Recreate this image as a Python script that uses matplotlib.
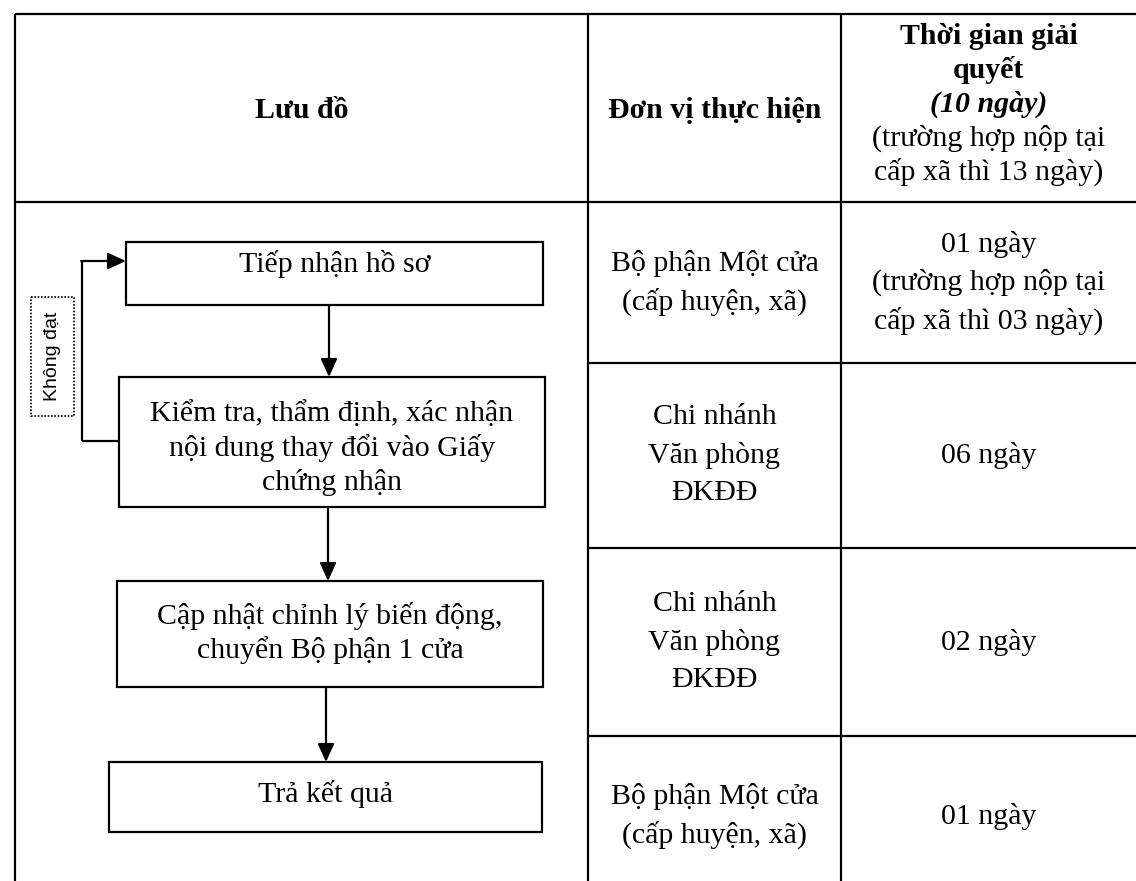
import matplotlib.pyplot as plt
from matplotlib.patches import Rectangle

# ---- noi dung bang (du lieu) ----
HEADERS = ['Lưu đồ', 'Đơn vị thực hiện']
TIME_HEADER = ['Thời gian giải', 'quyết', '(10 ngày)',
               '(trường hợp nộp tại', 'cấp xã thì 13 ngày)']
STEPS = [
    ['Tiếp nhận hồ sơ'],
    ['Kiểm tra, thẩm định, xác nhận', 'nội dung thay đổi vào Giấy', 'chứng nhận'],
    ['Cập nhật chỉnh lý biến động,', 'chuyển Bộ phận 1 cửa'],
    ['Trả kết quả'],
]
UNITS = [
    ['Bộ phận Một cửa', '(cấp huyện, xã)'],
    ['Chi nhánh', 'Văn phòng', 'ĐKĐĐ'],
    ['Chi nhánh', 'Văn phòng', 'ĐKĐĐ'],
    ['Bộ phận Một cửa', '(cấp huyện, xã)'],
]
DURATIONS = [
    ['01 ngày', '(trường hợp nộp tại', 'cấp xã thì 03 ngày)'],
    ['06 ngày'],
    ['02 ngày'],
    ['01 ngày'],
]
LOOP_LABEL = 'Không đạt'

# ---- bo cuc (pixel) ----
W, H = 1136, 881
X_LEFT, X_COL1, X_COL2, X_RIGHT = 15, 588, 841, 1136
Y_TOP, Y_HEAD = 14, 202
ROW_BOTTOMS = [363, 548, 736, 896]
BOXES = [(126, 242, 543, 305), (119, 377, 545, 507),
         (117, 581, 543, 687), (109, 762, 542, 832)]
STEP_FIRST_Y = [264, 414, 616, 794]
ARROW_X = [329, 328, 326]

SERIF = 'Liberation Serif'
FS = 21.5
LW = 1.6

fig = plt.figure(figsize=(W / 100, H / 100), dpi=100)
ax = fig.add_axes([0, 0, 1, 1])
ax.set_xlim(0, W)
ax.set_ylim(H, 0)
ax.axis('off')


def line(x0, y0, x1, y1, lw=LW):
    ax.plot([x0, x1], [y0, y1], color='black', lw=lw, solid_capstyle='butt')


def lines_text(x, yc, rows, spacing, **kw):
    """Ve nhieu dong chu, can giua quanh yc"""
    n = len(rows)
    for i, s in enumerate(rows):
        y = yc + (i - (n - 1) / 2) * spacing
        ax.text(x, y, s, ha='center', va='center', family=SERIF,
                fontsize=FS, color='black', **kw)


# khung bang
line(X_LEFT, Y_TOP, X_RIGHT, Y_TOP)
line(X_LEFT, Y_TOP, X_LEFT, H)
line(X_COL1, Y_TOP, X_COL1, H)
line(X_COL2, Y_TOP, X_COL2, H)
line(X_LEFT, Y_HEAD, X_RIGHT, Y_HEAD)
for yb in ROW_BOTTOMS[:-1]:
    line(X_COL1, yb, X_RIGHT, yb)

# tieu de
ax.text((X_LEFT + X_COL1) / 2, (Y_TOP + Y_HEAD) / 2 + 2, HEADERS[0], ha='center',
        va='center', family=SERIF, fontsize=FS, fontweight='bold')
ax.text((X_COL1 + X_COL2) / 2, (Y_TOP + Y_HEAD) / 2 + 2, HEADERS[1], ha='center',
        va='center', family=SERIF, fontsize=FS, fontweight='bold')
xc3 = (X_COL2 + X_RIGHT) / 2
styles = [dict(fontweight='bold'), dict(fontweight='bold'),
          dict(fontweight='bold', fontstyle='italic'), {}, {}]
for i, (s, st) in enumerate(zip(TIME_HEADER, styles)):
    ax.text(xc3, 36 + i * 34, s, ha='center', va='center', family=SERIF,
            fontsize=FS, **st)

# cot don vi va thoi gian
tops = [Y_HEAD] + ROW_BOTTOMS[:-1]
for top, bot, u, d in zip(tops, ROW_BOTTOMS, UNITS, DURATIONS):
    yc = (top + bot) / 2
    lines_text((X_COL1 + X_COL2) / 2, yc, u, 38)
    lines_text(xc3, yc, d, 38)

# luu do
for (x0, y0, x1, y1), rows, fy in zip(BOXES, STEPS, STEP_FIRST_Y):
    ax.add_patch(Rectangle((x0, y0), x1 - x0, y1 - y0, fill=False,
                           edgecolor='black', lw=LW))
    for i, s in enumerate(rows):
        ax.text((x0 + x1) / 2, fy + i * 34, s, ha='center', va='center',
                family=SERIF, fontsize=FS)

arrow_kw = dict(arrowstyle='-|>,head_length=1.1,head_width=0.5',
                color='black', lw=LW, shrinkA=0, shrinkB=0)
for i, ax_x in enumerate(ARROW_X):
    ax.annotate('', xy=(ax_x, BOXES[i + 1][1]), xytext=(ax_x, BOXES[i][3]),
                arrowprops=arrow_kw)

# vong lap "Khong dat"
loop_y0, loop_y1, loop_x = 441, 261, 82
line(BOXES[1][0], loop_y0, loop_x, loop_y0)
line(loop_x, loop_y0, loop_x, loop_y1)
ax.annotate('', xy=(BOXES[0][0], loop_y1), xytext=(loop_x - 0.8, loop_y1),
            arrowprops=arrow_kw)
ax.add_patch(Rectangle((31, 297), 43, 119, fill=False, edgecolor='black',
                       lw=1.2, linestyle=(0, (1, 1))))
ax.text(52.5, 356.5, LOOP_LABEL, rotation=90, ha='center', va='center',
        family='Liberation Sans', fontsize=14)

fig.savefig('out.png', dpi=100, facecolor='white')
